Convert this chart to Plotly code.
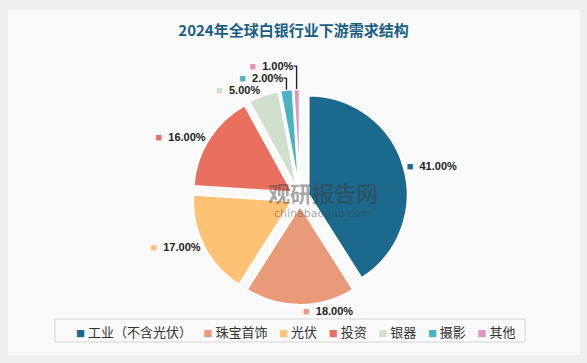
import plotly.graph_objects as go

categories = ["工业（不含光伏）", "珠宝首饰", "光伏", "投资", "银器", "摄影", "其他"]
values = [41, 18, 17, 16, 5, 2, 1]
colors = ["#1b6a8e", "#e99b79", "#fec274", "#e9705f", "#d0e0cc", "#4bb3c2", "#e294bf"]

labels_text = [
    f"<span style='color:{c}'>■</span>  {v:.2f}%" for c, v in zip(colors, values)
]

W, H = 587, 363
cx, cy, R = 300, 197, 108

fig = go.Figure()
fig.add_trace(go.Pie(
    labels=categories,
    values=values,
    text=labels_text,
    textinfo="text",
    textposition="outside",
    texttemplate="%{text}",
    sort=False,
    direction="clockwise",
    rotation=0,
    pull=[0.09] * len(values),
    marker=dict(colors=colors, line=dict(color="#ffffff", width=2)),
    outsidetextfont=dict(family="Liberation Sans, Arial", size=11, color="#222222", weight="bold"),
    domain=dict(x=[(cx - R) / W, (cx + R) / W], y=[1 - (cy + R) / H, 1 - (cy - R) / H]),
    hoverinfo="label+percent",
    showlegend=False,
))

# legend drawn as one text line built from the categories and colours
gap = "\u00a0" * 4
legend_text = gap.join(
    f"<span style='color:{c};font-size:9px'>■</span>\u00a0{name}" for c, name in zip(colors, categories)
)

fig.update_layout(
    width=W, height=H,
    margin=dict(l=0, r=0, t=0, b=0),
    paper_bgcolor="#efefef",
    title=dict(text="<b>2024年全球白银行业下游需求结构</b>", x=0.5, xanchor="center",
               y=1 - 31 / H, yanchor="middle",
               font=dict(family="Noto Sans CJK SC", size=15, color="#1b5e84")),
    shapes=[
        dict(type="rect", xref="paper", yref="paper", x0=8 / W, x1=1 - 7 / W,
             y0=8 / H, y1=1 - 10 / H, fillcolor="#fafafa", line=dict(width=0), layer="below"),
        dict(type="rect", xref="paper", yref="paper", x0=55 / W, x1=525 / W,
             y0=1 - 342 / H, y1=1 - 319 / H, fillcolor="rgba(0,0,0,0)",
             line=dict(color="#d4d4d4", width=1), layer="below"),
    ],
    annotations=[
        dict(text=legend_text, x=296 / W, y=1 - 331 / H, xref="paper", yref="paper",
             xanchor="center", yanchor="middle", showarrow=False,
             font=dict(family="Noto Sans CJK SC", size=13, color="#333333")),
        dict(text="<b>观研报告网</b>", x=323 / W, y=1 - 192 / H, xref="paper", yref="paper",
             showarrow=False, font=dict(family="Noto Sans CJK SC", size=22, color="rgba(60,60,60,0.45)")),
        dict(text="chinabaogao.com", x=323 / W, y=1 - 213 / H, xref="paper", yref="paper",
             showarrow=False, font=dict(family="DejaVu Sans", size=11, color="rgba(60,60,60,0.45)")),
    ],
)

fig.write_html("out.html", config={"displayModeBar": False},
               post_script="document.body.style.margin='0px';")
